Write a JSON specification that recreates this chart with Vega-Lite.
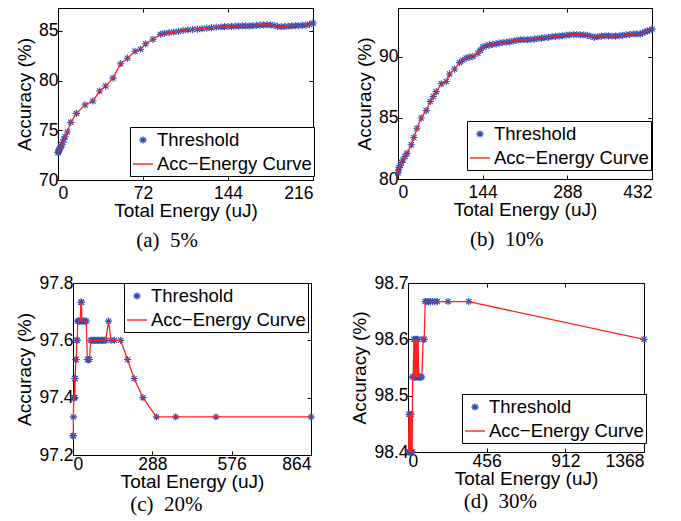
{
  "$schema": "https://vega.github.io/schema/vega-lite/v6.json",
  "padding": {"left": 14, "top": 7, "right": 2, "bottom": 2},
  "background": "white",
  "config": {
    "view": {"stroke": "black", "strokeWidth": 1},
    "axis": {
      "grid": false, "domainColor": "black", "domainWidth": 1,
      "tickColor": "black", "tickSize": -4, "tickWidth": 1,
      "labelFont": "Liberation Sans", "labelFontSize": 17.5, "labelColor": "black",
      "titleFont": "Liberation Sans", "titleFontSize": 19, "titleFontWeight": "normal", "titleColor": "black",
      "labelOverlap": false
    },
    "axisX": {"labelPadding": 8, "titlePadding": 0},
    "axisY": {"labelPadding": 4, "titlePadding": 4},
    "legend": {
      "strokeColor": "black", "fillColor": "white", "padding": 2,
      "labelFont": "Liberation Sans", "labelFontSize": 18.5, "labelColor": "black",
      "symbolSize": 400, "symbolStrokeWidth": 1.4, "rowPadding": 3, "labelOffset": 3,
      "symbolOpacity": 1
    },
    "title": {"font": "Liberation Serif", "fontSize": 21, "fontWeight": "normal", "color": "black"}
  },
  "datasets": {
    "spacer": [{"k": 0}],
    "a": [
      {"e": 0, "acc": 72.75}, {"e": 0.4, "acc": 72.9}, {"e": 0.8, "acc": 73.0}, {"e": 1.3, "acc": 73.1},
      {"e": 2, "acc": 73.25}, {"e": 2.6, "acc": 73.4}, {"e": 3.2, "acc": 73.55}, {"e": 4, "acc": 73.8},
      {"e": 5, "acc": 74.1}, {"e": 6, "acc": 74.35}, {"e": 7.9, "acc": 74.83}, {"e": 10.8, "acc": 75.8},
      {"e": 15.6, "acc": 76.7}, {"e": 22.9, "acc": 77.55}, {"e": 29.6, "acc": 77.95}, {"e": 35.3, "acc": 78.95},
      {"e": 40.4, "acc": 79.45}, {"e": 46.6, "acc": 80.25}, {"e": 53.1, "acc": 81.7}, {"e": 58.8, "acc": 82.25},
      {"e": 65.2, "acc": 82.95}, {"e": 70, "acc": 83.15}, {"e": 74.3, "acc": 83.7}, {"e": 80.5, "acc": 84.15},
      {"e": 87, "acc": 84.65}, {"e": 90, "acc": 84.75}, {"e": 94, "acc": 84.82}, {"e": 98, "acc": 84.88},
      {"e": 102, "acc": 84.95}, {"e": 106, "acc": 85.05}, {"e": 110, "acc": 85.1}, {"e": 114, "acc": 85.13},
      {"e": 118, "acc": 85.17}, {"e": 122, "acc": 85.22}, {"e": 126, "acc": 85.27}, {"e": 130, "acc": 85.32},
      {"e": 134, "acc": 85.37}, {"e": 138, "acc": 85.4}, {"e": 141, "acc": 85.42}, {"e": 144, "acc": 85.44},
      {"e": 147, "acc": 85.45}, {"e": 150, "acc": 85.47}, {"e": 153, "acc": 85.48}, {"e": 156, "acc": 85.5},
      {"e": 159, "acc": 85.5}, {"e": 162, "acc": 85.5}, {"e": 165, "acc": 85.52}, {"e": 168, "acc": 85.55},
      {"e": 171, "acc": 85.57}, {"e": 174, "acc": 85.6}, {"e": 177, "acc": 85.62}, {"e": 180, "acc": 85.6},
      {"e": 183, "acc": 85.55}, {"e": 186, "acc": 85.45}, {"e": 189, "acc": 85.42}, {"e": 192, "acc": 85.45},
      {"e": 195, "acc": 85.47}, {"e": 198, "acc": 85.5}, {"e": 201, "acc": 85.52}, {"e": 204, "acc": 85.53},
      {"e": 207, "acc": 85.55}, {"e": 210, "acc": 85.58}, {"e": 213, "acc": 85.65}, {"e": 216, "acc": 85.8}
    ],
    "b": [
      {"e": 0, "acc": 80.5}, {"e": 1, "acc": 80.75}, {"e": 2, "acc": 80.95}, {"e": 3.9, "acc": 81.1},
      {"e": 6, "acc": 81.35}, {"e": 8.5, "acc": 81.55}, {"e": 12, "acc": 81.85}, {"e": 15.3, "acc": 82.1},
      {"e": 22.6, "acc": 82.8}, {"e": 27, "acc": 83.4}, {"e": 32.3, "acc": 84.15}, {"e": 39.6, "acc": 85.0},
      {"e": 48, "acc": 85.6}, {"e": 54.9, "acc": 86.35}, {"e": 60, "acc": 86.75}, {"e": 65, "acc": 87.15},
      {"e": 73.6, "acc": 87.8}, {"e": 82, "acc": 87.98}, {"e": 87.7, "acc": 88.6}, {"e": 96.2, "acc": 89.0},
      {"e": 104.7, "acc": 89.53}, {"e": 110, "acc": 89.72}, {"e": 116, "acc": 89.9}, {"e": 121, "acc": 89.97},
      {"e": 127.4, "acc": 90.02}, {"e": 135.9, "acc": 90.3}, {"e": 140, "acc": 90.55}, {"e": 144.4, "acc": 90.8},
      {"e": 150, "acc": 90.9}, {"e": 155.6, "acc": 90.98}, {"e": 161, "acc": 91.02}, {"e": 167, "acc": 91.07},
      {"e": 172, "acc": 91.12}, {"e": 178, "acc": 91.17}, {"e": 184, "acc": 91.2}, {"e": 190, "acc": 91.23},
      {"e": 196, "acc": 91.3}, {"e": 202, "acc": 91.36}, {"e": 208, "acc": 91.4}, {"e": 214, "acc": 91.4},
      {"e": 220, "acc": 91.4}, {"e": 226, "acc": 91.42}, {"e": 232, "acc": 91.45}, {"e": 238, "acc": 91.5},
      {"e": 244, "acc": 91.53}, {"e": 250, "acc": 91.57}, {"e": 256, "acc": 91.6}, {"e": 262, "acc": 91.65},
      {"e": 268, "acc": 91.68}, {"e": 274, "acc": 91.7}, {"e": 280, "acc": 91.73}, {"e": 286, "acc": 91.78},
      {"e": 292, "acc": 91.8}, {"e": 298, "acc": 91.82}, {"e": 304, "acc": 91.83}, {"e": 310, "acc": 91.8},
      {"e": 316, "acc": 91.8}, {"e": 322, "acc": 91.76}, {"e": 328, "acc": 91.68}, {"e": 334, "acc": 91.6},
      {"e": 340, "acc": 91.65}, {"e": 346, "acc": 91.7}, {"e": 352, "acc": 91.72}, {"e": 358, "acc": 91.72},
      {"e": 364, "acc": 91.7}, {"e": 370, "acc": 91.7}, {"e": 376, "acc": 91.73}, {"e": 382, "acc": 91.76},
      {"e": 388, "acc": 91.8}, {"e": 394, "acc": 91.84}, {"e": 400, "acc": 91.87}, {"e": 406, "acc": 91.88},
      {"e": 412, "acc": 91.88}, {"e": 416, "acc": 91.95}, {"e": 420, "acc": 92.05}, {"e": 424, "acc": 92.1},
      {"e": 428, "acc": 92.18}, {"e": 432, "acc": 92.27}
    ],
    "c": [
      {"i": 1, "e": 0, "acc": 97.267}, {"i": 2, "e": 1, "acc": 97.267}, {"i": 3, "e": 1.5, "acc": 97.333},
      {"i": 4, "e": 2.5, "acc": 97.4}, {"i": 5, "e": 4, "acc": 97.4}, {"i": 6, "e": 5.5, "acc": 97.467},
      {"i": 7, "e": 6.5, "acc": 97.4}, {"i": 8, "e": 8, "acc": 97.467}, {"i": 9, "e": 10, "acc": 97.533},
      {"i": 10, "e": 12, "acc": 97.533}, {"i": 11, "e": 13.5, "acc": 97.6}, {"i": 12, "e": 15.5, "acc": 97.6},
      {"i": 13, "e": 17, "acc": 97.667}, {"i": 14, "e": 19, "acc": 97.667}, {"i": 15, "e": 22, "acc": 97.667},
      {"i": 16, "e": 26, "acc": 97.667}, {"i": 17, "e": 29, "acc": 97.733}, {"i": 18, "e": 31, "acc": 97.733},
      {"i": 19, "e": 32, "acc": 97.667}, {"i": 20, "e": 36, "acc": 97.667}, {"i": 21, "e": 40, "acc": 97.667},
      {"i": 22, "e": 44, "acc": 97.667}, {"i": 23, "e": 48, "acc": 97.667}, {"i": 24, "e": 52, "acc": 97.533},
      {"i": 25, "e": 56, "acc": 97.533}, {"i": 26, "e": 60, "acc": 97.533}, {"i": 27, "e": 64, "acc": 97.6},
      {"i": 28, "e": 68, "acc": 97.6}, {"i": 29, "e": 73, "acc": 97.6}, {"i": 30, "e": 78, "acc": 97.6},
      {"i": 31, "e": 83, "acc": 97.6}, {"i": 32, "e": 88, "acc": 97.6}, {"i": 33, "e": 93, "acc": 97.6},
      {"i": 34, "e": 98, "acc": 97.6}, {"i": 35, "e": 103, "acc": 97.6}, {"i": 36, "e": 108, "acc": 97.6},
      {"i": 37, "e": 113, "acc": 97.6}, {"i": 38, "e": 119, "acc": 97.6}, {"i": 39, "e": 129, "acc": 97.667},
      {"i": 40, "e": 138, "acc": 97.6}, {"i": 41, "e": 150, "acc": 97.6}, {"i": 42, "e": 173, "acc": 97.6},
      {"i": 43, "e": 198, "acc": 97.533}, {"i": 44, "e": 222, "acc": 97.467}, {"i": 45, "e": 254, "acc": 97.4},
      {"i": 46, "e": 303, "acc": 97.333}, {"i": 47, "e": 373, "acc": 97.333}, {"i": 48, "e": 519, "acc": 97.333},
      {"i": 49, "e": 864, "acc": 97.333}
    ],
    "d": [
      {"i": 1, "e": 3, "acc": 98.4}, {"i": 2, "e": 6, "acc": 98.467}, {"i": 3, "e": 9, "acc": 98.4},
      {"i": 4, "e": 12, "acc": 98.467}, {"i": 5, "e": 15, "acc": 98.4}, {"i": 6, "e": 18, "acc": 98.467},
      {"i": 7, "e": 21, "acc": 98.4}, {"i": 8, "e": 24, "acc": 98.4}, {"i": 9, "e": 27, "acc": 98.533},
      {"i": 10, "e": 30, "acc": 98.533}, {"i": 11, "e": 34, "acc": 98.6}, {"i": 12, "e": 38, "acc": 98.533},
      {"i": 13, "e": 42, "acc": 98.6}, {"i": 14, "e": 46, "acc": 98.533}, {"i": 15, "e": 50, "acc": 98.6},
      {"i": 16, "e": 54, "acc": 98.533}, {"i": 17, "e": 58, "acc": 98.6}, {"i": 18, "e": 62, "acc": 98.533},
      {"i": 19, "e": 67, "acc": 98.533}, {"i": 20, "e": 73, "acc": 98.533}, {"i": 21, "e": 80, "acc": 98.533},
      {"i": 22, "e": 88, "acc": 98.6}, {"i": 23, "e": 94, "acc": 98.6}, {"i": 24, "e": 100, "acc": 98.667},
      {"i": 25, "e": 110, "acc": 98.667}, {"i": 26, "e": 120, "acc": 98.667}, {"i": 27, "e": 130, "acc": 98.667},
      {"i": 28, "e": 142, "acc": 98.667}, {"i": 29, "e": 155, "acc": 98.667}, {"i": 30, "e": 170, "acc": 98.667},
      {"i": 31, "e": 232, "acc": 98.667}, {"i": 32, "e": 352, "acc": 98.667}, {"i": 33, "e": 1368, "acc": 98.6}
    ]
  },
  "resolve": {"scale": {"color": "independent", "shape": "independent"}, "legend": {"color": "independent", "shape": "independent"}},
  "spacing": 22,
  "vconcat": [
    {
      "spacing": 0,
      "resolve": {"scale": {"color": "independent", "shape": "independent"}, "legend": {"color": "independent", "shape": "independent"}},
      "hconcat": [
        {"width": 1, "height": 1, "data": {"name": "spacer"}, "view": {"stroke": null}, "mark": {"type": "point", "size": 0, "opacity": 0}, "encoding": {}},
        {
          "spacing": 35,
          "resolve": {"scale": {"color": "independent", "shape": "independent"}, "legend": {"color": "independent", "shape": "independent"}},
          "hconcat": [
            {
              "width": 255, "height": 172,
              "data": {"name": "a"},
              "title": {"text": "(a)\u00a0\u00a05%", "orient": "bottom", "frame": "bounds", "anchor": "middle", "offset": 9},
              "resolve": {"axis": {"x": "independent", "y": "independent"}},
              "layer": [
                {
                  "mark": {"type": "point", "filled": false, "size": 400, "strokeWidth": 1.1, "opacity": 1},
                  "encoding": {
                    "x": {"field": "e", "type": "quantitative", "scale": {"domain": [0, 216], "nice": false, "zero": false}, "axis": {"values": [0, 72, 144, 216], "title": "Total Energy (uJ)"}},
                    "y": {"field": "acc", "type": "quantitative", "scale": {"domain": [70, 87.3], "nice": false, "zero": false}, "axis": {"values": [70, 75, 80, 85], "title": "Accuracy (%)"}},
                    "color": {"datum": "Threshold", "type": "nominal", "scale": {"domain": ["Threshold", "Acc\u2212Energy Curve"], "range": ["#2f4fb4", "#ff2020"]}, "legend": {"title": null, "orient": "none", "legendX": 72, "legendY": 119}},
                    "shape": {"datum": "Threshold", "type": "nominal", "scale": {"domain": ["Threshold", "Acc\u2212Energy Curve"], "range": ["M-0.36,0H0.36M0,-0.36V0.36M-0.26,-0.26L0.26,0.26M-0.26,0.26L0.26,-0.26", "M-1,0H1"]}, "legend": {"title": null, "orient": "none", "legendX": 72, "legendY": 119}}
                  }
                },
                {
                  "mark": {"type": "line", "color": "#ff2020", "strokeWidth": 1.3},
                  "encoding": {
                    "x": {"field": "e", "type": "quantitative", "axis": {"orient": "top", "values": [0, 72, 144, 216], "labels": false, "domain": false, "title": null}},
                    "y": {"field": "acc", "type": "quantitative", "axis": {"orient": "right", "values": [70, 75, 80, 85], "labels": false, "domain": false, "title": null}}
                  }
                }
              ]
            },
            {
              "width": 254, "height": 171,
              "data": {"name": "b"},
              "title": {"text": "(b)\u00a0\u00a010%", "orient": "bottom", "frame": "bounds", "anchor": "middle", "offset": 9},
              "resolve": {"axis": {"x": "independent", "y": "independent"}},
              "layer": [
                {
                  "mark": {"type": "point", "filled": false, "size": 400, "strokeWidth": 1.1, "opacity": 1},
                  "encoding": {
                    "x": {"field": "e", "type": "quantitative", "scale": {"domain": [0, 432], "nice": false, "zero": false}, "axis": {"values": [0, 144, 288, 432], "title": "Total Energy (uJ)"}},
                    "y": {"field": "acc", "type": "quantitative", "scale": {"domain": [80, 94], "nice": false, "zero": false}, "axis": {"values": [80, 85, 90], "title": "Accuracy (%)"}},
                    "color": {"datum": "Threshold", "type": "nominal", "scale": {"domain": ["Threshold", "Acc\u2212Energy Curve"], "range": ["#2f4fb4", "#ff2020"]}, "legend": {"title": null, "orient": "none", "legendX": 69, "legendY": 113}},
                    "shape": {"datum": "Threshold", "type": "nominal", "scale": {"domain": ["Threshold", "Acc\u2212Energy Curve"], "range": ["M-0.36,0H0.36M0,-0.36V0.36M-0.26,-0.26L0.26,0.26M-0.26,0.26L0.26,-0.26", "M-1,0H1"]}, "legend": {"title": null, "orient": "none", "legendX": 69, "legendY": 113}}
                  }
                },
                {
                  "mark": {"type": "line", "color": "#ff2020", "strokeWidth": 1.3},
                  "encoding": {
                    "x": {"field": "e", "type": "quantitative", "axis": {"orient": "top", "values": [0, 144, 288, 432], "labels": false, "domain": false, "title": null}},
                    "y": {"field": "acc", "type": "quantitative", "axis": {"orient": "right", "values": [80, 85, 90], "labels": false, "domain": false, "title": null}}
                  }
                }
              ]
            }
          ]
        }
      ]
    },
    {
      "spacing": 0,
      "resolve": {"scale": {"color": "independent", "shape": "independent"}, "legend": {"color": "independent", "shape": "independent"}},
      "hconcat": [
        {"width": 1, "height": 1, "data": {"name": "spacer"}, "view": {"stroke": null}, "mark": {"type": "point", "size": 0, "opacity": 0}, "encoding": {}},
        {
          "spacing": 32,
          "resolve": {"scale": {"color": "independent", "shape": "independent"}, "legend": {"color": "independent", "shape": "independent"}},
          "hconcat": [
            {
              "width": 238, "height": 172,
              "data": {"name": "c"},
              "title": {"text": "(c)\u00a0\u00a020%", "orient": "bottom", "frame": "bounds", "anchor": "middle", "offset": 2},
              "resolve": {"axis": {"x": "independent", "y": "independent"}},
              "layer": [
                {
                  "mark": {"type": "point", "filled": false, "size": 400, "strokeWidth": 1.1, "opacity": 1},
                  "encoding": {
                    "x": {"field": "e", "type": "quantitative", "scale": {"domain": [0, 864], "nice": false, "zero": false}, "axis": {"values": [0, 288, 576, 864], "title": "Total Energy (uJ)", "labelPadding": 4}},
                    "y": {"field": "acc", "type": "quantitative", "scale": {"domain": [97.2, 97.8], "nice": false, "zero": false}, "axis": {"values": [97.2, 97.4, 97.6, 97.8], "format": ".1f", "title": "Accuracy (%)"}},
                    "color": {"datum": "Threshold", "type": "nominal", "scale": {"domain": ["Threshold", "Acc\u2212Energy Curve"], "range": ["#2f4fb4", "#ff2020"]}, "legend": {"title": null, "orient": "none", "legendX": 51, "legendY": 0}},
                    "shape": {"datum": "Threshold", "type": "nominal", "scale": {"domain": ["Threshold", "Acc\u2212Energy Curve"], "range": ["M-0.36,0H0.36M0,-0.36V0.36M-0.26,-0.26L0.26,0.26M-0.26,0.26L0.26,-0.26", "M-1,0H1"]}, "legend": {"title": null, "orient": "none", "legendX": 51, "legendY": 0}}
                  }
                },
                {
                  "mark": {"type": "line", "color": "#ff2020", "strokeWidth": 1.3},
                  "encoding": {
                    "x": {"field": "e", "type": "quantitative", "axis": {"orient": "top", "values": [0, 288, 576, 864], "labels": false, "domain": false, "title": null}},
                    "y": {"field": "acc", "type": "quantitative", "axis": {"orient": "right", "values": [97.2, 97.4, 97.6, 97.8], "labels": false, "domain": false, "title": null}},
                    "order": {"field": "i", "type": "quantitative"}
                  }
                }
              ]
            },
            {
              "width": 236, "height": 169,
              "data": {"name": "d"},
              "title": {"text": "(d)\u00a0\u00a030%", "orient": "bottom", "frame": "bounds", "anchor": "middle", "offset": 2},
              "resolve": {"axis": {"x": "independent", "y": "independent"}},
              "layer": [
                {
                  "mark": {"type": "point", "filled": false, "size": 400, "strokeWidth": 1.1, "opacity": 1},
                  "encoding": {
                    "x": {"field": "e", "type": "quantitative", "scale": {"domain": [0, 1368], "nice": false, "zero": false}, "axis": {"values": [0, 456, 912, 1368], "format": "d", "title": "Total Energy (uJ)", "labelPadding": 4}},
                    "y": {"field": "acc", "type": "quantitative", "scale": {"domain": [98.4, 98.7], "nice": false, "zero": false}, "axis": {"values": [98.4, 98.5, 98.6, 98.7], "format": ".1f", "title": "Accuracy (%)"}},
                    "color": {"datum": "Threshold", "type": "nominal", "scale": {"domain": ["Threshold", "Acc\u2212Energy Curve"], "range": ["#2f4fb4", "#ff2020"]}, "legend": {"title": null, "orient": "none", "legendX": 54, "legendY": 111}},
                    "shape": {"datum": "Threshold", "type": "nominal", "scale": {"domain": ["Threshold", "Acc\u2212Energy Curve"], "range": ["M-0.36,0H0.36M0,-0.36V0.36M-0.26,-0.26L0.26,0.26M-0.26,0.26L0.26,-0.26", "M-1,0H1"]}, "legend": {"title": null, "orient": "none", "legendX": 54, "legendY": 111}}
                  }
                },
                {
                  "mark": {"type": "line", "color": "#ff2020", "strokeWidth": 1.3},
                  "encoding": {
                    "x": {"field": "e", "type": "quantitative", "axis": {"orient": "top", "values": [0, 456, 912, 1368], "labels": false, "domain": false, "title": null}},
                    "y": {"field": "acc", "type": "quantitative", "axis": {"orient": "right", "values": [98.4, 98.5, 98.6, 98.7], "labels": false, "domain": false, "title": null}},
                    "order": {"field": "i", "type": "quantitative"}
                  }
                }
              ]
            }
          ]
        }
      ]
    }
  ]
}
